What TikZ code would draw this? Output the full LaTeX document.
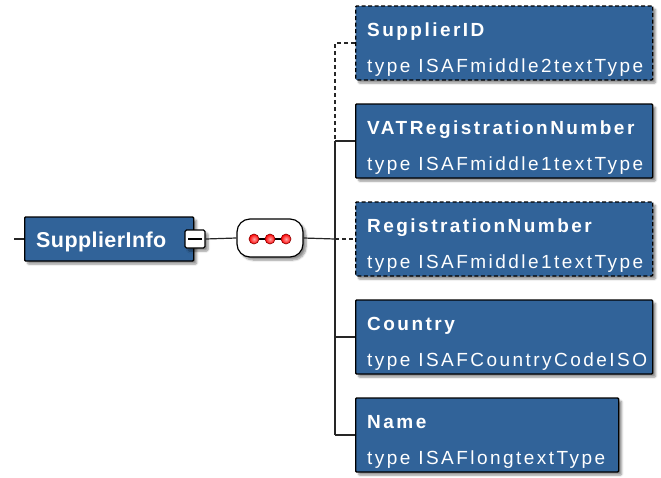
\documentclass[tikz,border=0pt]{standalone}
\usepackage{fontspec}
\setmainfont{Liberation Sans}
\newfontfamily\kidfont[LetterSpace=13]{Liberation Sans}
\newfontfamily\rootfont[LetterSpace=2]{Liberation Sans}
\usetikzlibrary{shadows.blur}
\definecolor{xsblue}{RGB}{49,99,153}
\begin{document}
\begin{tikzpicture}[x=1pt,y=-1pt,
  shad/.style={blur shadow={shadow xshift=3pt, shadow yshift=-3pt, shadow blur steps=6, shadow blur radius=2pt, shadow opacity=45}},
  elbox/.style={draw=black, line width=1.3pt, fill=xsblue, rounded corners=1pt, inner sep=0pt, anchor=west, minimum height=74pt, shad},
  optbox/.style={elbox, dash pattern=on 4pt off 2.5pt},
  kidtitle/.style={anchor=base west, inner sep=0pt, text=white, font=\kidfont\bfseries\fontsize{19}{21}\selectfont},
  kidtype/.style={anchor=base west, inner sep=0pt, text=white, font=\kidfont\fontsize{19}{21}\selectfont},
  conn/.style={draw=black!85, line width=1.2pt},
  dconn/.style={conn, dash pattern=on 4pt off 3pt},
  seqdot/.style={circle, draw=red!55!black, line width=0.6pt, inner color=red!35!white, outer color=red, minimum size=10pt, inner sep=0pt}
]
\useasboundingbox (0,0) rectangle (661,477);

% root element
\node[elbox, minimum width=169pt, minimum height=44pt] (root) at (24,239) {};
\node[anchor=base west, inner sep=0pt, text=white, font=\rootfont\bfseries\fontsize{21.5}{24}\selectfont] (rootlbl) at (36,247) {SupplierInfo};
\coordinate (stub) at (14,239);
\draw[conn] (stub) -- (root.west);

% collapse box
\node[draw=black, line width=1.1pt, fill=white, rounded corners=1.5pt, minimum width=20pt, minimum height=18pt, inner sep=0pt, shad] (minus) at (195,239) {};
\draw[black, line width=1.1pt] ([xshift=4pt]minus.west) -- ([xshift=-4pt]minus.east);

% sequence compositor
\node[draw=black, line width=1.2pt, fill=white, rounded corners=13pt, minimum width=66pt, minimum height=38pt, inner sep=0pt, shad] (seq) at (270,238) {};
\draw[black, line width=1.2pt] (254,239) -- (286,239);
\foreach \x/\n in {254/d1,270/d2,286/d3}{
  \node[seqdot] (\n) at (\x,239) {};
}
\draw[conn] (minus.east) -- (seq.west);

% bus
\coordinate (bus) at (335,239);
\coordinate (bustop) at (335,43);
\coordinate (busmid) at (335,141);
\coordinate (busbot) at (335,435);
\draw[conn] (seq.east) -- (bus);

% children
\node[optbox, minimum width=297pt] (sid) at (355,43) {};
\node[kidtitle] (sidn) at (367,36) {SupplierID};
\node[kidtype] (sidt) at (367,72) {type ISAFmiddle2textType};

\node[elbox, minimum width=297pt] (vat) at (355,141) {};
\node[kidtitle] (vatn) at (367,134) {VATRegistrationNumber};
\node[kidtype] (vatt) at (367,170) {type ISAFmiddle1textType};

\node[optbox, minimum width=297pt] (reg) at (355,239) {};
\node[kidtitle] (regn) at (367,232) {RegistrationNumber};
\node[kidtype] (regt) at (367,268) {type ISAFmiddle1textType};

\node[elbox, minimum width=297pt] (cty) at (355,337) {};
\node[kidtitle] (ctyn) at (367,330) {Country};
\node[kidtype] (ctyt) at (367,366) {type ISAFCountryCodeISO};

\node[elbox, minimum width=263pt] (nam) at (355,435) {};
\node[kidtitle] (namn) at (367,428) {Name};
\node[kidtype] (namt) at (367,464) {type ISAFlongtextType};

% connectors from bus
\draw[dconn] (sid.west) -- (bustop) -- (busmid);
\draw[conn] (busmid) -- (busbot);
\draw[conn] (busmid) -- (vat.west);
\draw[dconn] (bus) -- (reg.west);
\draw[conn] (cty.west -| busbot) -- (cty.west);
\draw[conn] (busbot) -- (nam.west);
\end{tikzpicture}
\end{document}
